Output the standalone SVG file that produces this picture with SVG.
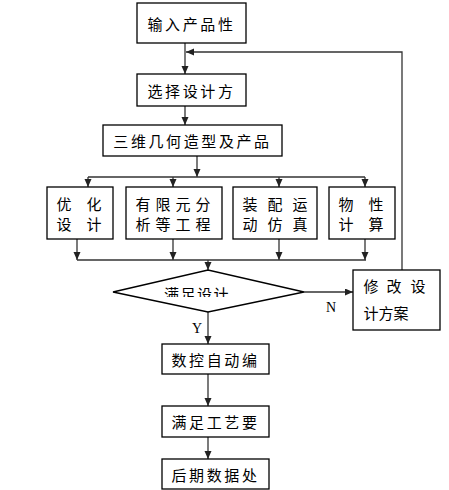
<svg xmlns="http://www.w3.org/2000/svg" width="449" height="490" viewBox="0 0 449 490">
<style>
.box{fill:#fff;stroke:#000;stroke-width:1.3}
.t{font-family:"Noto Sans CJK SC","Noto Sans CJK JP",sans-serif;font-size:15px;fill:#000;text-anchor:middle;dominant-baseline:central}
.lbl{font-family:"Liberation Serif",serif;font-size:14px;fill:#000;text-anchor:middle;dominant-baseline:central}
.c{fill:none;stroke:#333;stroke-width:1.3}
</style>
<defs>
<marker id="ah" markerUnits="userSpaceOnUse" markerWidth="8" markerHeight="8" refX="8" refY="3.5" orient="auto">
<path d="M0,0 L8,3.5 L0,7 z" fill="#222"/>
</marker>
<clipPath id="dclip"><rect x="150" y="280" width="100" height="17"/></clipPath>
</defs>
<g id="connectors">
<path class="c" d="M185,43 V74" marker-end="url(#ah)"/>
<path class="c" d="M402,270 V52 H186" marker-end="url(#ah)"/>
<path class="c" d="M185,106 V125" marker-end="url(#ah)"/>
<path class="c" d="M197,156 V177" marker-end="url(#ah)"/>
<path class="c" d="M88,177 H365"/>
<path class="c" d="M88,177 V187" marker-end="url(#ah)"/>
<path class="c" d="M173,177 V187" marker-end="url(#ah)"/>
<path class="c" d="M279,177 V187" marker-end="url(#ah)"/>
<path class="c" d="M365,177 V187" marker-end="url(#ah)"/>
<path class="c" d="M77,239 V260" marker-end="url(#ah)"/>
<path class="c" d="M173,239 V260" marker-end="url(#ah)"/>
<path class="c" d="M279,239 V260" marker-end="url(#ah)"/>
<path class="c" d="M365,239 V260" marker-end="url(#ah)"/>
<path class="c" d="M77,260 H366"/>
<path class="c" d="M208,260 V270" marker-end="url(#ah)"/>
<path class="c" d="M304,292 H353" marker-end="url(#ah)"/>
<path class="c" d="M208,312 V344" marker-end="url(#ah)"/>
<path class="c" d="M208,374 V406" marker-end="url(#ah)"/>
<path class="c" d="M208,437 V459" marker-end="url(#ah)"/>
<text class="lbl" x="331" y="307">N</text>
<text class="lbl" x="197" y="328">Y</text>
</g>
<g id="n1"><rect class="box" x="137" y="3" width="109" height="40"/><text class="t" x="191.5" y="23" letter-spacing="2.6">输入产品性</text></g>
<g id="n2"><rect class="box" x="137" y="74" width="109" height="32"/><text class="t" x="191.5" y="90" letter-spacing="2.6">选择设计方</text></g>
<g id="n3"><rect class="box" x="103" y="125" width="179" height="31"/><text class="t" x="192.5" y="140.5" letter-spacing="2.6">三维几何造型及产品</text></g>
<g id="nA"><rect class="box" x="47" y="187" width="66" height="52"/><text class="t" x="64 94" y="203">优化</text><text class="t" x="64 94" y="223">设计</text></g>
<g id="nB"><rect class="box" x="126" y="187" width="96" height="52"/><text class="t" x="143 163 183 203" y="203">有限元分</text><text class="t" x="143 163 183 203" y="223">析等工程</text></g>
<g id="nC"><rect class="box" x="233" y="187" width="84" height="52"/><text class="t" x="250 275 300" y="203">装配运</text><text class="t" x="250 275 300" y="223">动仿真</text></g>
<g id="nD"><rect class="box" x="329" y="187" width="66" height="52"/><text class="t" x="346 376" y="203">物性</text><text class="t" x="346 376" y="223">计算</text></g>
<g id="nDiamond"><path class="box" d="M113,292 L208,270 L304,292 L208,312 Z"/><text class="t" x="197" y="293.5" font-size="14" letter-spacing="1.5" clip-path="url(#dclip)">满足设计</text></g>
<g id="nE"><rect class="box" x="353" y="270" width="87" height="60"/><text class="t" x="371 394 418" y="285">修改设</text><text class="t" x="386" y="312">计方案</text></g>
<g id="nF"><rect class="box" x="162" y="344" width="107" height="30"/><text class="t" x="215.5" y="359" letter-spacing="2.6">数控自动编</text></g>
<g id="nG"><rect class="box" x="162" y="406" width="107" height="31"/><text class="t" x="215.5" y="421.5" letter-spacing="2.6">满足工艺要</text></g>
<g id="nH"><rect class="box" x="162" y="459" width="107" height="30"/><text class="t" x="215.5" y="474" letter-spacing="2.6">后期数据处</text></g>
</svg>
